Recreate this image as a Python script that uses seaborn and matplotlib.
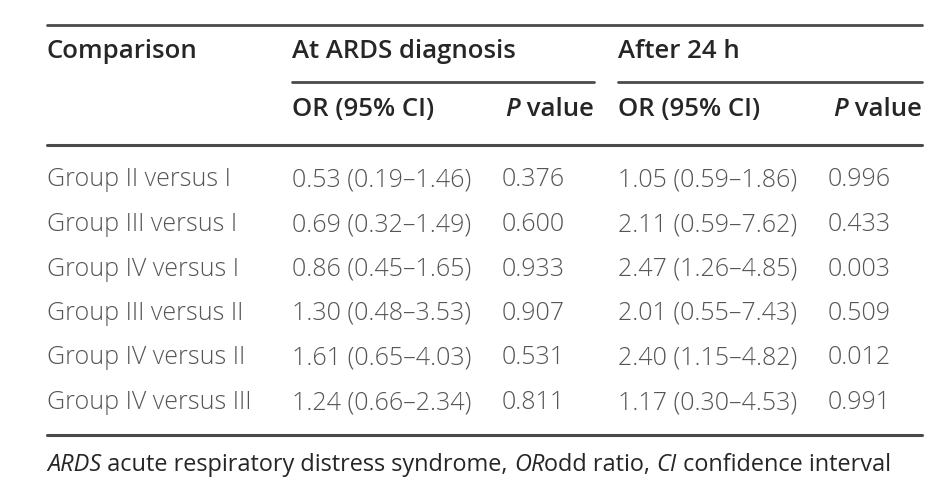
import matplotlib.pyplot as plt
import seaborn as sns

# table content
comparisons = [
    "Group II versus I",
    "Group III versus I",
    "Group IV versus I",
    "Group III versus II",
    "Group IV versus II",
    "Group IV versus III",
]
or_diag = [
    "0.53 (0.19–1.46)",
    "0.69 (0.32–1.49)",
    "0.86 (0.45–1.65)",
    "1.30 (0.48–3.53)",
    "1.61 (0.65–4.03)",
    "1.24 (0.66–2.34)",
]
p_diag = ["0.376", "0.600", "0.933", "0.907", "0.531", "0.811"]
or_24h = [
    "1.05 (0.59–1.86)",
    "2.11 (0.59–7.62)",
    "2.47 (1.26–4.85)",
    "2.01 (0.55–7.43)",
    "2.40 (1.15–4.82)",
    "1.17 (0.30–4.53)",
]
p_24h = ["0.996", "0.433", "0.003", "0.509", "0.012", "0.991"]
footnote = [
    ("ARDS", "italic"), (" acute respiratory distress syndrome, ", "normal"),
    ("OR", "italic"), ("odd ratio, ", "normal"),
    ("CI", "italic"), (" confidence interval", "normal"),
]

sns.set_theme(style="white")
plt.rcParams["font.family"] = ["Open Sans", "DejaVu Sans"]

HEAD = "#262626"
BODY = "#555555"
LINE = "#4a4a4a"

fig = plt.figure(figsize=(9.5, 4.87), dpi=100)
ax = fig.add_axes([0, 0, 1, 1])
ax.set_xlim(0, 950)
ax.set_ylim(487, 0)
ax.axis("off")

renderer = fig.canvas.get_renderer()


def width_px(s, **kw):
    t = ax.text(0, 0, s, **kw)
    w = t.get_window_extent(renderer).width
    t.remove()
    return w


def pieces(x, y, parts, size, color, weight="normal", right=False):
    kws = [dict(fontsize=size, color=color, fontstyle=st, fontweight=weight) for _, st in parts]
    widths = [width_px(s, **k) for (s, _), k in zip(parts, kws)]
    if right:
        x -= sum(widths)
    for (s, _), k, w in zip(parts, kws, widths):
        ax.text(x, y, s, va="center", ha="left", **k)
        x += w


hsize = 18.5
bsize = 18
X0, X1, X2, X3, XR = 47, 292, 594, 618, 922

# rules
ax.plot([X0, XR], [25, 25], color=LINE, lw=2)
ax.plot([X1, X2], [82, 82], color=LINE, lw=2)
ax.plot([X3, XR], [82, 82], color=LINE, lw=2)
ax.plot([X0, XR], [145, 145], color=LINE, lw=2.2)
ax.plot([X0, XR], [435, 435], color=LINE, lw=2.2)

# headers
hk = dict(fontsize=hsize, color=HEAD, fontweight="semibold", va="center")
ax.text(X0, 51, "Comparison", **hk)
ax.text(X1, 51, "At ARDS diagnosis", **hk)
ax.text(X3, 51, "After 24 h", **hk)
ax.text(X1, 109, "OR (95% CI)", **hk)
ax.text(X3, 109, "OR (95% CI)", **hk)
pv = [("P", "italic"), (" value", "normal")]
pieces(X2, 109, pv, hsize, HEAD, weight="semibold", right=True)
pieces(XR, 109, pv, hsize, HEAD, weight="semibold", right=True)

# body rows
bk = dict(fontsize=bsize, color=BODY, va="center", fontweight="light")
for i, (c, o1, p1, o2, p2) in enumerate(zip(comparisons, or_diag, p_diag, or_24h, p_24h)):
    y = 180 + i * 44.5
    ax.text(X0, y, c, **bk)
    ax.text(X1, y, o1, **bk)
    ax.text(502, y, p1, **bk)
    ax.text(X3, y, o2, **bk)
    ax.text(828, y, p2, **bk)

pieces(X0, 465, footnote, 16.9, HEAD)

fig.savefig("out.png", dpi=100)
